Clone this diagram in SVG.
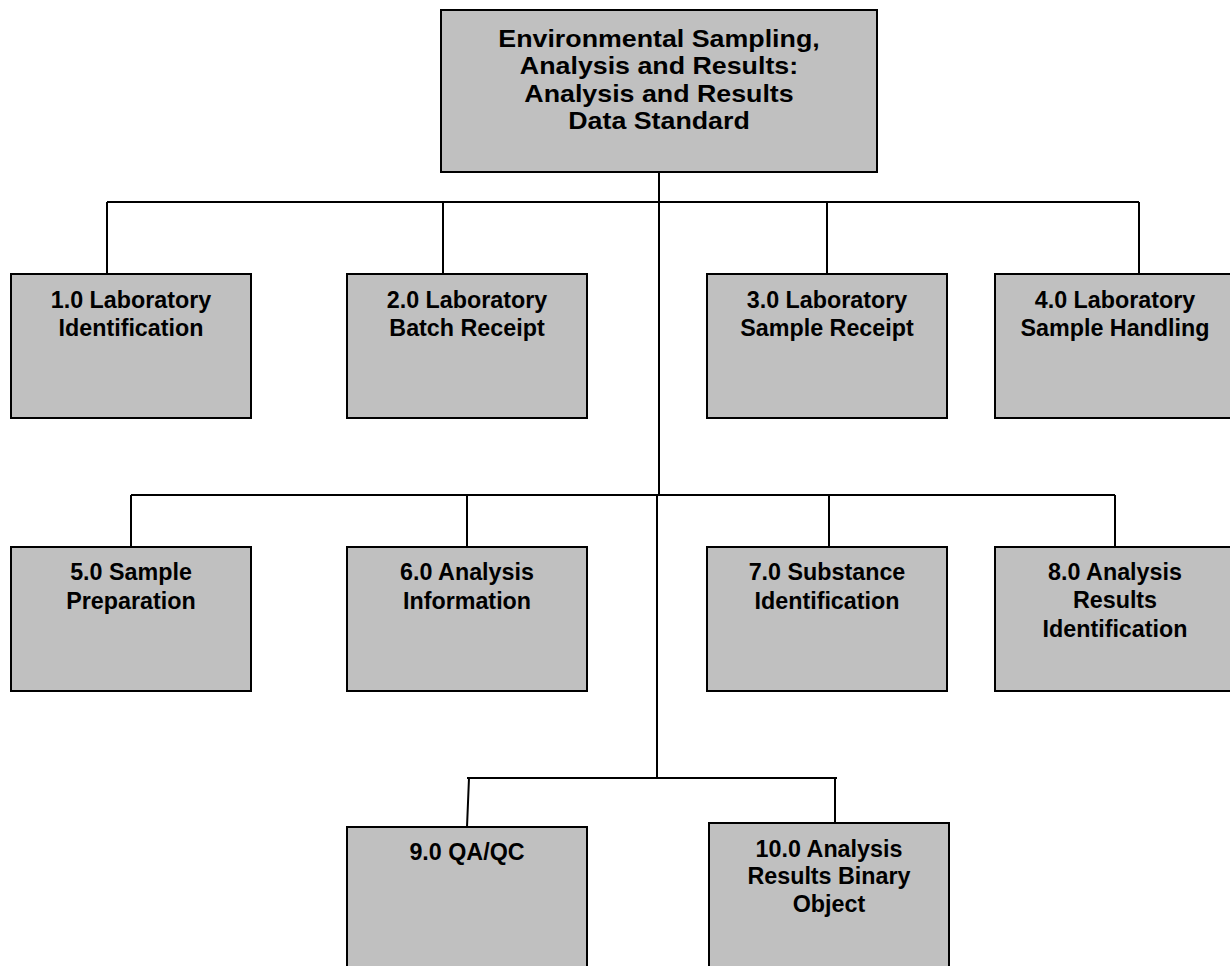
<svg xmlns="http://www.w3.org/2000/svg" width="1230" height="966" viewBox="0 0 1230 966">
<style>
.box{fill:#c0c0c0;stroke:#000;stroke-width:2}
.t{font-family:"Liberation Sans",Arial,sans-serif;font-weight:bold;font-size:23.3px;fill:#000;text-anchor:middle}
.tt{font-size:23.5px}
.ln{stroke:#000;stroke-width:2;fill:none}
</style>
<rect width="1230" height="966" fill="#fff"/>
<g id="connectors">
<path class="ln" d="M659 172V495"/>
<path class="ln" d="M657 495V778"/>
<path class="ln" d="M107 202H1139M107 202V274M443 202V274M827 202V274M1139 202V274"/>
<path class="ln" d="M131 495H1115M131 495V547M467 495V547M829 495V547M1115 495V547"/>
<path class="ln" d="M467 778H837M469 778L467 827M835 778V823"/>
</g>
<g id="root">
<rect class="box" x="441" y="10" width="436" height="162"/>
<g transform="translate(659 0) scale(1.14 1)">
<text class="t tt"><tspan x="0" y="47">Environmental Sampling,</tspan><tspan x="0" y="74.5">Analysis and Results:</tspan><tspan x="0" y="102">Analysis and Results</tspan><tspan x="0" y="129.5">Data Standard</tspan></text>
</g>
</g>
<g id="n1">
<rect class="box" x="11" y="274" width="240" height="144"/>
<text class="t"><tspan x="131" y="308">1.0 Laboratory</tspan><tspan x="131" y="336">Identification</tspan></text>
</g>
<g id="n2">
<rect class="box" x="347" y="274" width="240" height="144"/>
<text class="t"><tspan x="467" y="308">2.0 Laboratory</tspan><tspan x="467" y="336">Batch Receipt</tspan></text>
</g>
<g id="n3">
<rect class="box" x="707" y="274" width="240" height="144"/>
<text class="t"><tspan x="827" y="308">3.0 Laboratory</tspan><tspan x="827" y="336">Sample Receipt</tspan></text>
</g>
<g id="n4">
<rect class="box" x="995" y="274" width="240" height="144"/>
<text class="t"><tspan x="1115" y="308">4.0 Laboratory</tspan><tspan x="1115" y="336">Sample Handling</tspan></text>
</g>
<g id="n5">
<rect class="box" x="11" y="547" width="240" height="144"/>
<text class="t"><tspan x="131" y="580">5.0 Sample</tspan><tspan x="131" y="609">Preparation</tspan></text>
</g>
<g id="n6">
<rect class="box" x="347" y="547" width="240" height="144"/>
<text class="t"><tspan x="467" y="580">6.0 Analysis</tspan><tspan x="467" y="609">Information</tspan></text>
</g>
<g id="n7">
<rect class="box" x="707" y="547" width="240" height="144"/>
<text class="t"><tspan x="827" y="580">7.0 Substance</tspan><tspan x="827" y="609">Identification</tspan></text>
</g>
<g id="n8">
<rect class="box" x="995" y="547" width="240" height="144"/>
<text class="t"><tspan x="1115" y="580">8.0 Analysis</tspan><tspan x="1115" y="608">Results</tspan><tspan x="1115" y="637">Identification</tspan></text>
</g>
<g id="n9">
<rect class="box" x="347" y="827" width="240" height="150"/>
<text class="t"><tspan x="467" y="860">9.0 QA/QC</tspan></text>
</g>
<g id="n10">
<rect class="box" x="709" y="823" width="240" height="154"/>
<text class="t"><tspan x="829" y="857">10.0 Analysis</tspan><tspan x="829" y="884">Results Binary</tspan><tspan x="829" y="912">Object</tspan></text>
</g>
</svg>
